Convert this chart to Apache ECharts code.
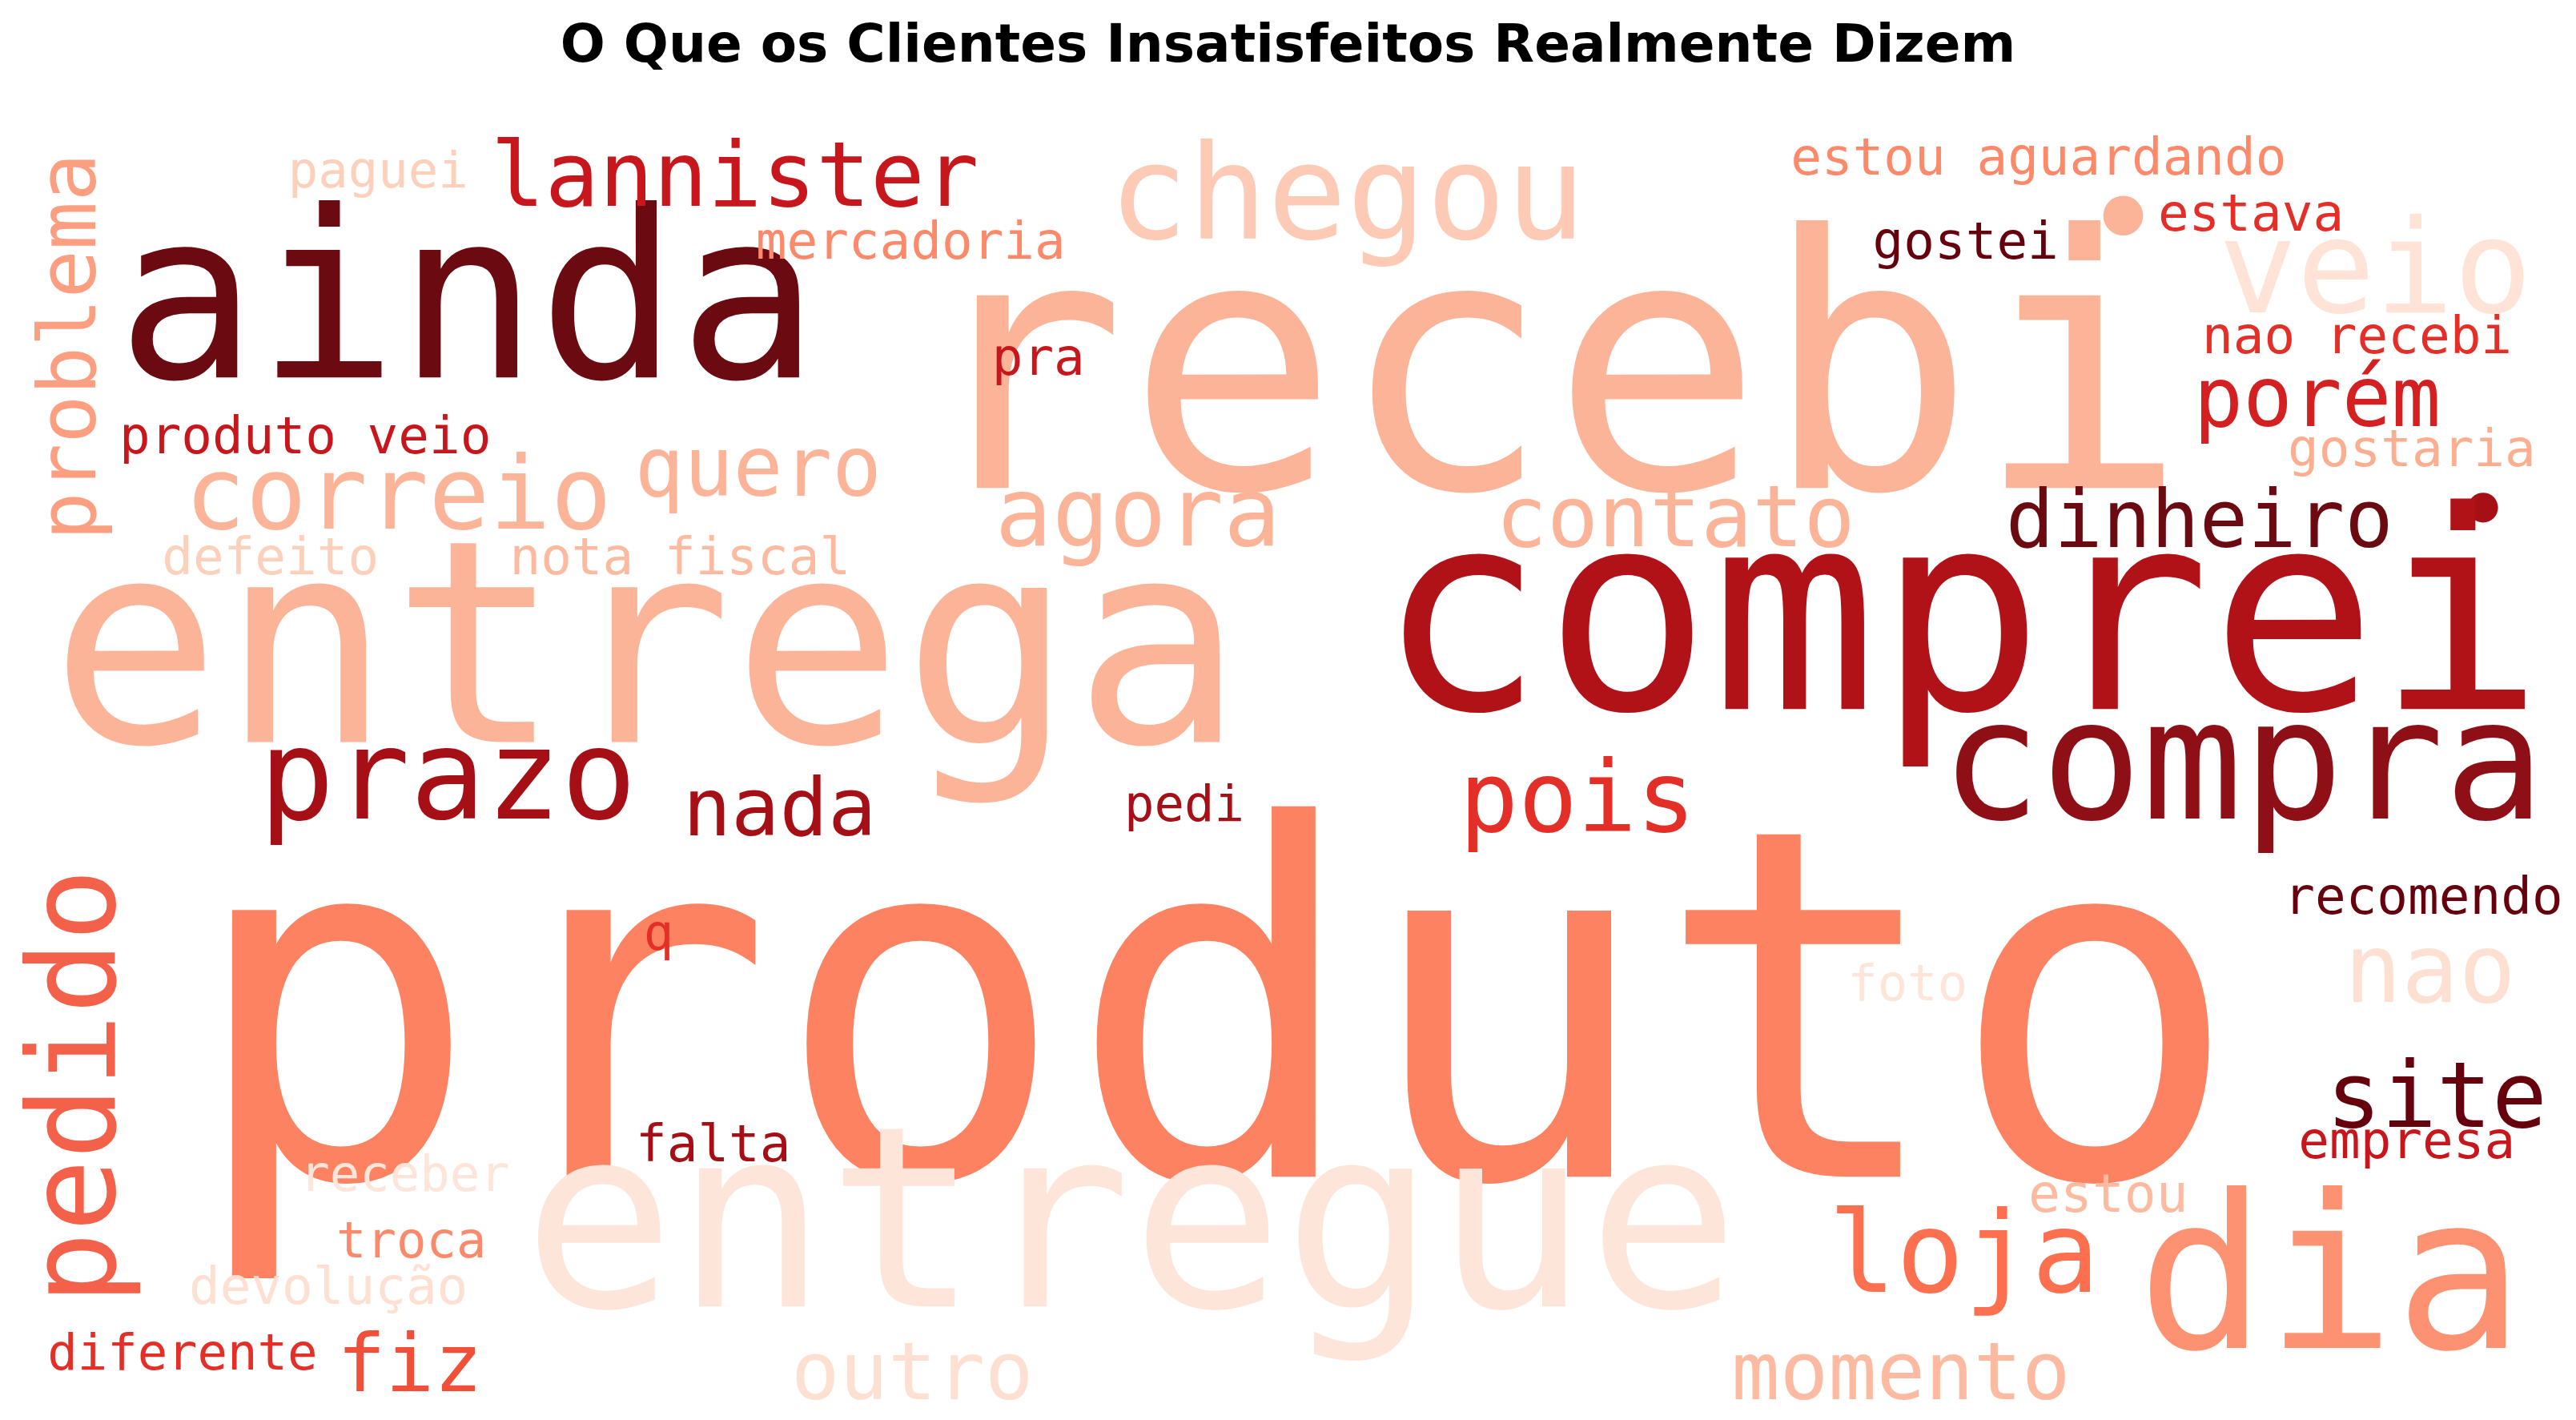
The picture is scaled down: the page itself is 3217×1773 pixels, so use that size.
<!DOCTYPE html>
<html>
<head>
<meta charset="utf-8">
<script src="https://cdn.jsdelivr.net/npm/echarts@6/dist/echarts.min.js"></script>
<style>html,body{margin:0;padding:0;background:#fff}#chart{width:3217px;height:1773px}</style>
</head>
<body>
<div id="chart"></div>
<script>
// word cloud laid out in a 1553 x 856 reference frame
var words = ['produto', 'recebi', 'entrega', 'entregue', 'comprei', 'ainda', 'compra', 'chegou', 'veio', 'lannister',
	'porém', 'dinheiro', 'correio', 'quero', 'agora', 'contato', 'prazo', 'nada', 'pois', 'pedido', 'problema',
	'nao', 'site', 'loja', 'dia', 'momento', 'outro', 'fiz', 'diferente', 'devolução', 'troca', 'receber', 'falta',
	'q', 'pedi', 'foto', 'empresa', 'estou', 'recomendo', 'gostaria', 'nao recebi', 'estava', 'gostei',
	'estou aguardando', 'mercadoria', 'paguei', 'pra', 'produto veio', 'defeito', 'nota fiscal'];
var wordX = [732, 935, 390, 682, 1182, 282, 1352, 812, 1432, 443,
	1397, 1326, 240, 457, 686, 1010, 270, 470, 951, 50, 45,
	1465, 1469, 1184, 1405, 1146, 550, 247, 110, 198, 248, 244, 430,
	397, 714, 1150, 1451, 1271, 1461, 1454, 1421, 1357, 1185,
	1229, 549, 228, 626, 184, 163, 410];
var wordY = [633, 239, 403, 748, 384, 191, 467, 123, 168, 110,
	244, 317, 303, 286, 314, 316, 474, 491, 486, 655, 209,
	589, 665, 761, 779, 831, 831, 826, 818, 778, 750, 710, 692,
	565, 487, 595, 690, 722, 543, 273, 205, 131, 148,
	97, 148, 105, 218, 265, 338, 338];
var wordSize = [303, 219, 176, 157, 172, 145, 104, 82, 81, 56,
	51, 50, 63, 51, 59, 53, 78, 50, 61, 75, 50,
	59, 57, 70, 133, 50, 50, 50, 31, 32, 31, 31, 32,
	31, 31, 31, 32, 33, 32, 32, 32, 32, 32,
	32, 32, 31, 32, 32, 32, 32];
var wordRotate = [0, 0, 0, 0, 0, 0, 0, 0, 0, 0,
	0, 0, 0, 0, 0, 0, 0, 0, 0, 90, 90,
	0, 0, 0, 0, 0, 0, 0, 0, 0, 0, 0, 0,
	0, 0, 0, 0, 0, 0, 0, 0, 0, 0,
	0, 0, 0, 0, 0, 0, 0];
var wordColor = ['#fc8262', '#fcb499', '#fcb499', '#fee5d9', '#b11218', '#6b0a11', '#8e0f16', '#fdcab5', '#fee3d6', '#c8171c',
	'#d42020', '#6b0a11', '#fcb499', '#fcb499', '#fcb499', '#fcb499', '#a50f15', '#a50f15', '#e32f27', '#f4614a', '#fc9f81',
	'#fee0d2', '#67000d', '#fc7050', '#fc9272', '#fcbba1', '#fee0d2', '#f0503a', '#e32f27', '#fee0d2', '#fc8a6a', '#fee5d9', '#a50f15',
	'#e32f27', '#a50f15', '#fee5d9', '#c8171c', '#fcbba1', '#67000d', '#fcae91', '#e32f27', '#e32f27', '#67000d',
	'#fc8a6a', '#fc8a6a', '#fdd0bc', '#c8171c', '#c8171c', '#fdd0bc', '#fcbba1'];
// the two stray "." tokens
var dotX = [1280, 1497];
var dotY = [130, 306];
var dotSize = [24, 18];
var dotColor = ['#fcb499', '#a50f15'];

var S = 3217 / 1553;
var myChart = echarts.init(document.getElementById('chart'));

var wordData = [];
for (var i = 0; i < words.length; i++) {
	wordData.push({
		value: [wordX[i], wordY[i]],
		label: {
			formatter: words[i],
			fontSize: wordSize[i] * S * 0.97,
			color: wordColor[i],
			rotate: wordRotate[i]
		}
	});
}
var dotData = [];
for (var j = 0; j < dotX.length; j++) {
	dotData.push({
		value: [dotX[j], dotY[j]],
		symbolSize: dotSize[j] * S,
		itemStyle: { color: dotColor[j], opacity: 1 }
	});
}

myChart.setOption({
	animation: false,
	title: {
		text: 'O Que os Clientes Insatisfeitos Realmente Dizem',
		left: 'center',
		top: 22,
		textStyle: { fontFamily: 'DejaVu Sans', fontWeight: 'bold', fontSize: 66, color: '#000' }
	},
	grid: { left: 0, right: 0, top: 0, bottom: 0 },
	xAxis: { type: 'value', min: 0, max: 1553, show: false },
	yAxis: { type: 'value', min: 0, max: 856, inverse: true, show: false },
	series: [{
		type: 'scatter',
		symbolSize: 0,
		itemStyle: { opacity: 1 },
		data: wordData,
		label: {
			show: true,
			position: 'inside',
			align: 'center',
			verticalAlign: 'middle',
			opacity: 1,
			fontFamily: 'DejaVu Sans Mono'
		}
	}, {
		type: 'scatter',
		itemStyle: { opacity: 1 },
		data: dotData
	}]
});
</script>
</body>
</html>
